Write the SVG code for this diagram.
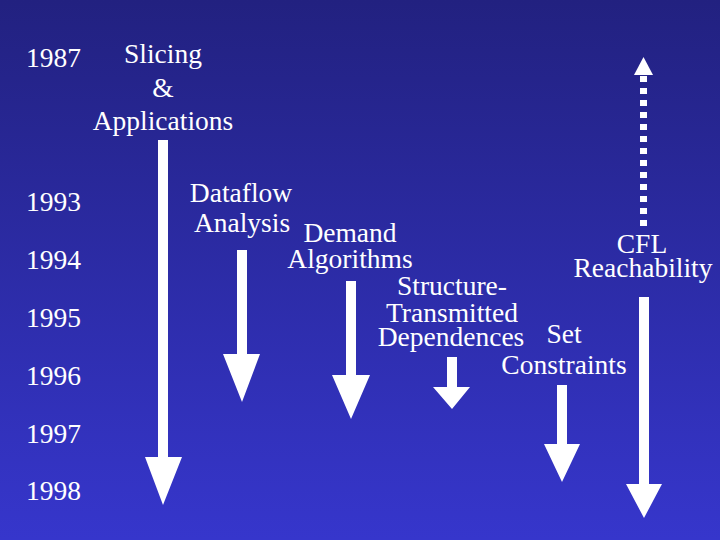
<svg xmlns="http://www.w3.org/2000/svg" width="720" height="540" viewBox="0 0 720 540">
<defs>
<linearGradient id="bg" x1="0" y1="0" x2="0" y2="1">
<stop offset="0" stop-color="#222180"/>
<stop offset="1" stop-color="#3636cc"/>
</linearGradient>
</defs>
<rect x="0" y="0" width="720" height="540" fill="url(#bg)"/>
<g id="years" fill="#ffffff">
<text x="26" y="67" font-family="Liberation Serif" font-size="27.5">1987</text>
<text x="26" y="211" font-family="Liberation Serif" font-size="27.5">1993</text>
<text x="26" y="269" font-family="Liberation Serif" font-size="27.5">1994</text>
<text x="26" y="327" font-family="Liberation Serif" font-size="27.5">1995</text>
<text x="26" y="385" font-family="Liberation Serif" font-size="27.5">1996</text>
<text x="26" y="443" font-family="Liberation Serif" font-size="27.5">1997</text>
<text x="26" y="500" font-family="Liberation Serif" font-size="27.5">1998</text>
</g>
<g id="slicing" fill="#ffffff" text-anchor="middle">
<text x="163" y="63" font-family="Liberation Serif" font-size="27.5">Slicing</text>
<text x="163" y="97" font-family="Liberation Serif" font-size="27.5">&amp;</text>
<text x="163" y="130" font-family="Liberation Serif" font-size="27.5">Applications</text>
</g>
<g id="dataflow" fill="#ffffff" text-anchor="middle">
<text x="241" y="202" font-family="Liberation Serif" font-size="27.5">Dataflow</text>
<text x="242" y="232" font-family="Liberation Serif" font-size="27.5">Analysis</text>
</g>
<g id="demand" fill="#ffffff" text-anchor="middle">
<text x="350" y="242" font-family="Liberation Serif" font-size="27.5">Demand</text>
<text x="350" y="268" font-family="Liberation Serif" font-size="27.5">Algorithms</text>
</g>
<g id="structure" fill="#ffffff" text-anchor="middle">
<text x="452" y="295" font-family="Liberation Serif" font-size="27.5">Structure-</text>
<text x="452" y="322" font-family="Liberation Serif" font-size="27.5">Transmitted</text>
<text x="451" y="346" font-family="Liberation Serif" font-size="27.5">Dependences</text>
</g>
<g id="setconstraints" fill="#ffffff" text-anchor="middle">
<text x="564" y="343" font-family="Liberation Serif" font-size="27.5">Set</text>
<text x="564" y="374" font-family="Liberation Serif" font-size="27.5">Constraints</text>
</g>
<g id="cfl" fill="#ffffff" text-anchor="middle">
<text x="642" y="253" font-family="Liberation Serif" font-size="27.5">CFL</text>
<text x="643" y="277" font-family="Liberation Serif" font-size="27.5">Reachability</text>
</g>
<g id="connectors" fill="#ffffff">
<polygon points="158,140 168,140 168,457 182,457 163,505 145,457 158,457"/>
<polygon points="237,250 247,250 247,354 260,354 242,402 223,354 237,354"/>
<polygon points="346,281 356,281 356,375 370,375 351,419 332,375 346,375"/>
<polygon points="447,357 457,357 457,387 470,387 452,409 433,387 447,387"/>
<polygon points="557,385 567,385 567,444 580,444 562,482 544,444 557,444"/>
<polygon points="639,297 649,297 649,484 662,484 644,518 626,484 639,484"/>
<line x1="643.5" y1="226" x2="643.5" y2="75" stroke="#ffffff" stroke-width="7" stroke-dasharray="6 6"/>
<polygon points="643.5,57 653,75 634,75"/>
</g>
</svg>
